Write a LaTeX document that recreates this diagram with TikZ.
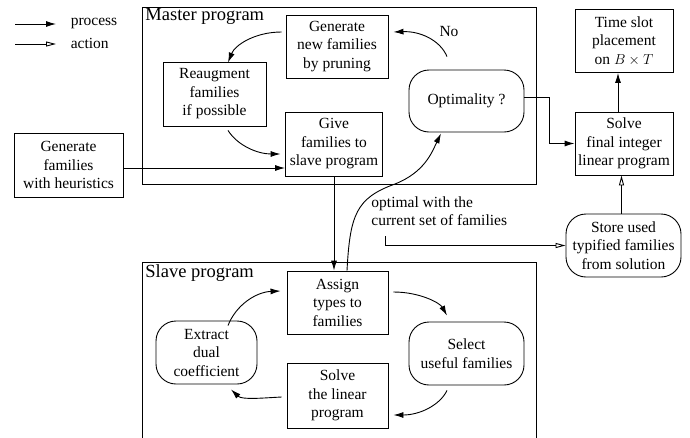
\documentclass[tikz,border=0pt]{standalone}
\usepackage{fontspec}
\setmainfont{Liberation Serif}
\usetikzlibrary{arrows.meta}
\begin{document}
\begin{tikzpicture}[x=1pt,y=-1pt,line width=0.9pt,
  txt/.style={font=\rmfamily\fontsize{15.5}{18.5}\selectfont},
  bx/.style={draw,txt,align=center,inner sep=1pt},
  rbx/.style={bx,rounded corners=20pt},
  lbl/.style={font=\rmfamily\fontsize{18.5}{21}\selectfont,anchor=north west,inner sep=1pt},
  proc/.style={-{Latex[length=10pt,width=6pt]}},
  actn/.style={-{Triangle[open,length=10pt,width=5pt]}}]
\useasboundingbox (0,0) rectangle (690,437);
% legend
\coordinate (p1) at (15,24); \coordinate (p2) at (56,24);
\coordinate (a1) at (15,44); \coordinate (a2) at (56,44);
\draw[proc] (p1) -- (p2);
\draw[actn] (a1) -- (a2);
\node[txt,anchor=west] (lp) at (67,23) {process};
\node[txt,anchor=west] (la) at (67,43) {action};
% master
\draw (142,7) rectangle (536,184);
\node[lbl] (mlab) at (144,7) {Master program};
\node[bx,minimum width=102pt,minimum height=63pt] (gen) at (337,46.5) {Generate\\new families\\by pruning};
\node[bx,minimum width=103pt,minimum height=64pt] (reaug) at (214.5,94) {Reaugment\\families\\if possible};
\node[bx,minimum width=97pt,minimum height=64pt] (give) at (334,144) {Give\\families to\\slave program};
\node[rbx,minimum width=115pt,minimum height=62pt] (opt) at (466.5,101) {Optimality ?};
\node[txt] (no) at (449,31) {No};
% outside
\node[bx,minimum width=109pt,minimum height=64pt] (heur) at (68.5,165) {Generate\\families\\with heuristics};
\node[bx,minimum width=98pt,minimum height=63pt] (ts) at (624,41) {Time slot\\placement\\on $B\times T$};
\node[bx,minimum width=98pt,minimum height=63pt] (fin) at (624,143.5) {Solve\\final integer\\linear program};
\node[rbx,minimum width=115pt,minimum height=63pt] (store) at (623.5,245.5) {Store used\\typified families\\from solution};
\node[txt,align=left,anchor=north west,inner sep=0pt] (optl) at (371,196) {optimal with the\\current set of families};
% slave
\draw (142,438) -- (142,262) -- (536,262) -- (536,438);
\node[lbl] (slab) at (144,263) {Slave program};
\node[bx,minimum width=101pt,minimum height=63pt] (asg) at (337.5,302.5) {Assign\\types to\\families};
\node[bx,minimum width=101pt,minimum height=65pt] (slv) at (337.5,395.5) {Solve\\the linear\\program};
\node[rbx,minimum width=101pt,minimum height=63pt] (ext) at (206.5,352.5) {Extract\\dual\\coefficient};
\node[rbx,minimum width=115pt,minimum height=63pt] (sel) at (466.5,353.5) {Select\\useful families};
% connectors master
\draw[proc] ([xshift=-4pt,yshift=14.5pt]gen.west) .. controls (255,32) and (235,45) .. ([xshift=13.5pt,yshift=-1pt]reaug.north);
\draw[proc] ([xshift=13.5pt,yshift=-4pt]reaug.south) .. controls (238,146) and (258,154) .. ([xshift=-4.5pt,yshift=-10pt]give.west);
\draw[proc] ([xshift=-19.5pt,yshift=13pt]opt.north) .. controls (440,40) and (420,31) .. ([xshift=5pt,yshift=14.5pt]gen.east);
\draw[proc] ([yshift=-3pt]heur.east) -- ([yshift=-3pt]heur.east -| give.west);
\draw[proc] (give.south) -- (give.south |- asg.north);
\draw[proc] ([yshift=4pt]opt.east) -- ++(25,0) |- (fin.west);
\draw[proc] ([xshift=-6pt]fin.north) -- ([xshift=-6pt]ts.south);
\draw[actn] ([xshift=-2pt]store.north) -- ([xshift=-2pt]store.north |- fin.south);
\coordinate (ac) at (385,236);
\draw[actn] (ac) |- (store.west);
\draw[proc] ([xshift=9.5pt]asg.north) .. controls (350,215) and (356,198) .. (395,184) .. controls (425,172) and (432,152) .. ([xshift=-25.5pt,yshift=-1pt]opt.south);
% connectors slave
\draw[proc] ([xshift=21.5pt,yshift=-5pt]ext.north) .. controls (236,305) and (256,292) .. ([xshift=-6pt,yshift=11.5pt]asg.west);
\draw[proc] ([xshift=5pt,yshift=10.5pt]asg.east) .. controls (420,292) and (440,303) .. ([xshift=-19.5pt,yshift=6pt]sel.north);
\draw[proc] ([xshift=-19.5pt,yshift=-5pt]sel.south) .. controls (440,405) and (420,415) .. ([xshift=5pt,yshift=-19.5pt]slv.east);
\draw[proc] ([xshift=-5pt,yshift=-1.5pt]slv.west) .. controls (262,398) and (242,400) .. ([xshift=24.5pt,yshift=-5pt]ext.south);
\end{tikzpicture}
\end{document}
